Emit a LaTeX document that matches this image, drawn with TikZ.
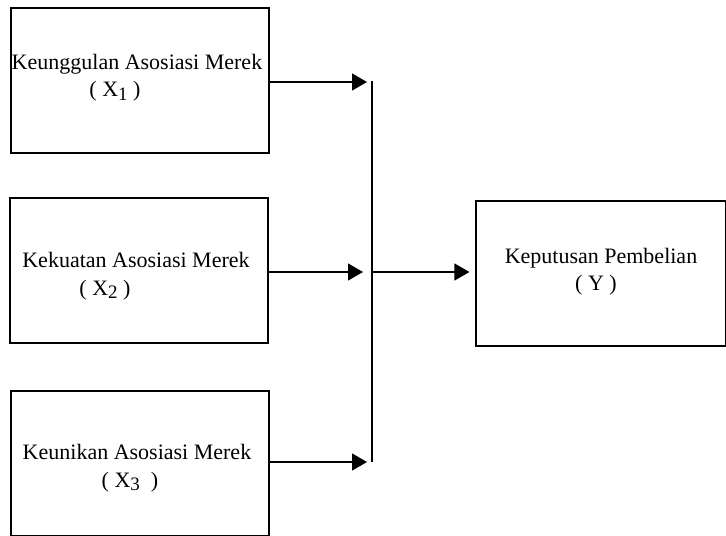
\documentclass[tikz,border=0pt]{standalone}
\usepackage{fontspec}
\setmainfont{Liberation Serif}
\usetikzlibrary{arrows.meta}

\newcommand{\lowidx}[1]{\raisebox{-0.35ex}{\fontsize{9.5}{10}\selectfont #1}}

\begin{document}
\begin{tikzpicture}[x=0.5pt,y=-0.5pt,
    box/.style={draw,line width=0.6pt,minimum width=129pt,minimum height=72.5pt,inner sep=0pt},
    lbl/.style={anchor=base,inner sep=0pt,font=\fontsize{11}{13}\selectfont},
    arr/.style={-{Triangle[length=7.5pt,width=8.5pt]},line width=0.6pt}]
  \useasboundingbox (0,0) rectangle (726,535);

  \def\jx{372}

  % left boxes: name/centre x/centre y/first baseline/index x/text/index
  \foreach \nm/\cx/\cy/\ty/\sx/\txt/\idx in {
      x1/140/80.5/69/115/{Keunggulan Asosiasi Merek}/{( X\lowidx{1} )},
      x2/139/270.5/267/105/{Kekuatan Asosiasi Merek}/{( X\lowidx{2} )},
      x3/140/463.5/459/130/{Keunikan Asosiasi Merek}/{( X\lowidx{3} \ )}} {
    \node[box] (\nm) at (\cx,\cy) {};
    \node[lbl] (\nm t) at (\cx-3,\ty) {\txt};
    \node[lbl] (\nm s) at (\sx,\ty+28) {\idx};
  }

  % right box
  \node[box,minimum width=125pt] (y) at (601,273.5) {};
  \node[lbl] (yt) at (601,263) {Keputusan Pembelian};
  \node[lbl] (ys) at (596,290) {( Y )};

  % connectors
  \coordinate (top) at (\jx,81);
  \coordinate (bot) at (\jx,462);
  \coordinate (mid) at (\jx,272);
  \coordinate (a1) at (367,82);
  \coordinate (a2) at (363,272);
  \coordinate (a3) at (367,462);

  \draw[line width=0.6pt] (top) -- (bot);
  \draw[arr] (x1.east |- a1) -- (a1);
  \draw[arr] (x2.east |- a2) -- (a2);
  \draw[arr] (x3.east |- a3) -- (a3);
  \draw[arr] (mid) -- ([xshift=-3pt]y.west |- mid);

\end{tikzpicture}
\end{document}
